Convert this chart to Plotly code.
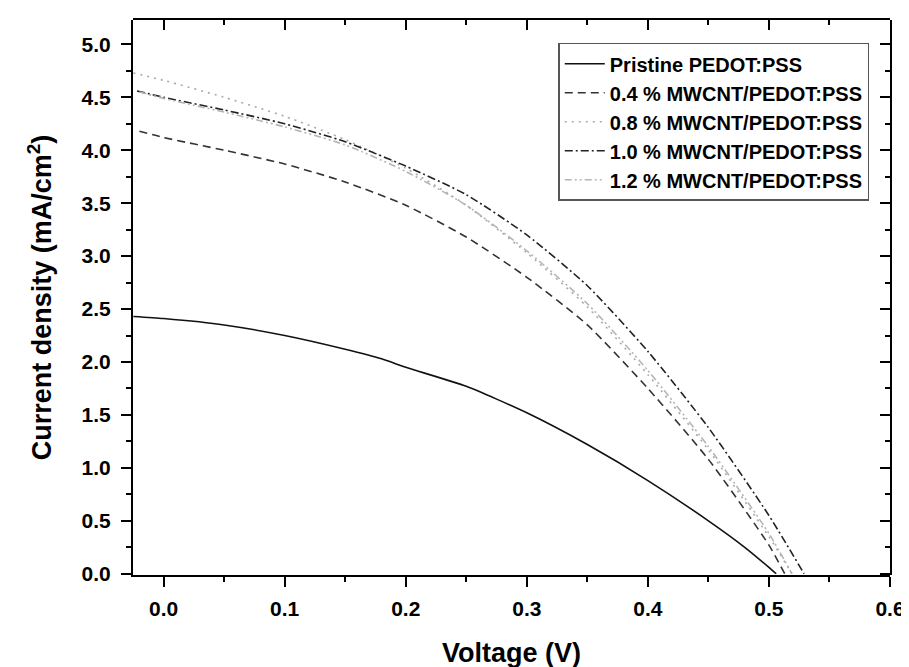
import plotly.graph_objects as go

# J-V curves
voltage_pristine = [-0.025, 0.0, 0.05, 0.1, 0.15, 0.18, 0.2, 0.25, 0.3, 0.35, 0.4, 0.45, 0.48, 0.5, 0.506]
j_pristine = [2.43, 2.41, 2.35, 2.25, 2.12, 2.03, 1.95, 1.77, 1.52, 1.22, 0.88, 0.50, 0.25, 0.06, 0.0]

voltage_04 = [-0.02, 0.0, 0.05, 0.1, 0.15, 0.2, 0.25, 0.3, 0.35, 0.4, 0.45, 0.5, 0.513]
j_04 = [4.18, 4.12, 4.00, 3.87, 3.70, 3.48, 3.18, 2.80, 2.35, 1.75, 1.08, 0.27, 0.0]

voltage_08 = [-0.025, 0.0, 0.05, 0.1, 0.15, 0.2, 0.25, 0.3, 0.35, 0.4, 0.45, 0.5, 0.519]
j_08 = [4.73, 4.66, 4.50, 4.32, 4.10, 3.83, 3.48, 3.03, 2.52, 1.88, 1.17, 0.35, 0.0]

voltage_10 = [-0.022, 0.0, 0.05, 0.1, 0.15, 0.2, 0.25, 0.3, 0.35, 0.4, 0.45, 0.5, 0.529]
j_10 = [4.56, 4.50, 4.38, 4.25, 4.08, 3.85, 3.58, 3.20, 2.72, 2.10, 1.38, 0.55, 0.0]

voltage_12 = [-0.02, 0.0, 0.05, 0.1, 0.15, 0.2, 0.25, 0.3, 0.35, 0.4, 0.45, 0.5, 0.519]
j_12 = [4.55, 4.49, 4.36, 4.22, 4.05, 3.80, 3.48, 3.05, 2.55, 1.92, 1.20, 0.38, 0.0]

x_ticks = [0.0, 0.1, 0.2, 0.3, 0.4, 0.5, 0.6]
y_ticks = [0.0, 0.5, 1.0, 1.5, 2.0, 2.5, 3.0, 3.5, 4.0, 4.5, 5.0]

series = [
    ("Pristine PEDOT:PSS", voltage_pristine, j_pristine, "#111111", "solid"),
    ("0.4 % MWCNT/PEDOT:PSS", voltage_04, j_04, "#333333", "8px,5px"),
    ("0.8 % MWCNT/PEDOT:PSS", voltage_08, j_08, "#aaaaaa", "2px,5px"),
    ("1.0 % MWCNT/PEDOT:PSS", voltage_10, j_10, "#222222", "8px,3px,2px,3px"),
    ("1.2 % MWCNT/PEDOT:PSS", voltage_12, j_12, "#b5b5b5", "7px,3px,2px,3px,2px,3px"),
]

FONT = "Liberation Sans, Arial, sans-serif"
x_range = [-0.0253, 0.6]
y_range = [-0.012, 5.23]

fig = go.Figure()
for name, xs, ys, color, dash in series:
    fig.add_trace(go.Scatter(x=xs, y=ys, name=name, mode="lines",
                             line=dict(color=color, width=1.6, dash=dash, shape="spline", smoothing=0.6)))

# empty helper subplots: one thin strip at the top (x2/y2) and one at the right (x3/y3),
# only there to carry the inside-pointing ticks of the top and right frame
for xa, ya in (("x2", "y2"), ("x3", "y3")):
    fig.add_trace(go.Scatter(x=[0.3], y=[2.5], xaxis=xa, yaxis=ya, mode="markers",
                             marker=dict(opacity=0), showlegend=False, hoverinfo="skip"))

axis_common = dict(showgrid=False, zeroline=False, showline=True, linecolor="black", linewidth=2,
                   tickcolor="black", tickwidth=2, ticklen=10)
hidden = dict(visible=False, showgrid=False, zeroline=False)

fig.update_layout(
    width=909, height=667,
    margin=dict(l=125, r=18, t=12, b=93),
    paper_bgcolor="white", plot_bgcolor="rgba(0,0,0,0)",
    font=dict(family=FONT, color="black"),
    showlegend=True,
    legend=dict(x=0.9726, y=0.959, xanchor="right", yanchor="top",
                bordercolor="#555555", borderwidth=1.5, bgcolor="white",
                font=dict(size=20, family=FONT, color="black", weight="bold"),
                tracegroupgap=0, itemwidth=40),
    xaxis=dict(range=x_range, domain=[0, 1], tickvals=x_ticks, tickformat=".1f", ticks="outside",
               tickfont=dict(size=21, weight="bold"), ticklabelstandoff=4,
               minor=dict(dtick=0.05, tick0=0, ticks="outside", ticklen=5, tickwidth=2, tickcolor="black"),
               title=dict(text="Voltage (V)", font=dict(size=27, weight="bold"), standoff=24),
               **axis_common),
    yaxis=dict(range=y_range, domain=[0, 1], tickvals=y_ticks, tickformat=".1f", ticks="outside",
               tickfont=dict(size=21, weight="bold"), ticklabelstandoff=6,
               minor=dict(dtick=0.25, tick0=0, ticks="outside", ticklen=5, tickwidth=2, tickcolor="black"),
               title=dict(text="Current density (mA/cm<sup>2</sup>)", font=dict(size=27, weight="bold"), standoff=22),
               **axis_common),
    # top frame with inward ticks
    xaxis2=dict(range=x_range, domain=[0, 1], anchor="y2", side="top",
                tickvals=x_ticks, ticks="inside", showticklabels=False,
                minor=dict(dtick=0.05, tick0=0, ticks="inside", ticklen=5, tickwidth=2, tickcolor="black"),
                **axis_common),
    yaxis2=dict(range=[0, 1], domain=[0.998, 1], anchor="x2", **hidden),
    # right frame with inward ticks
    yaxis3=dict(range=y_range, domain=[0, 1], anchor="x3", side="right",
                tickvals=y_ticks, ticks="inside", showticklabels=False,
                minor=dict(dtick=0.25, tick0=0, ticks="inside", ticklen=5, tickwidth=2, tickcolor="black"),
                **axis_common),
    xaxis3=dict(range=[0, 1], domain=[0.998, 1], anchor="y3", **hidden),
)

fig.write_html("out.html")
